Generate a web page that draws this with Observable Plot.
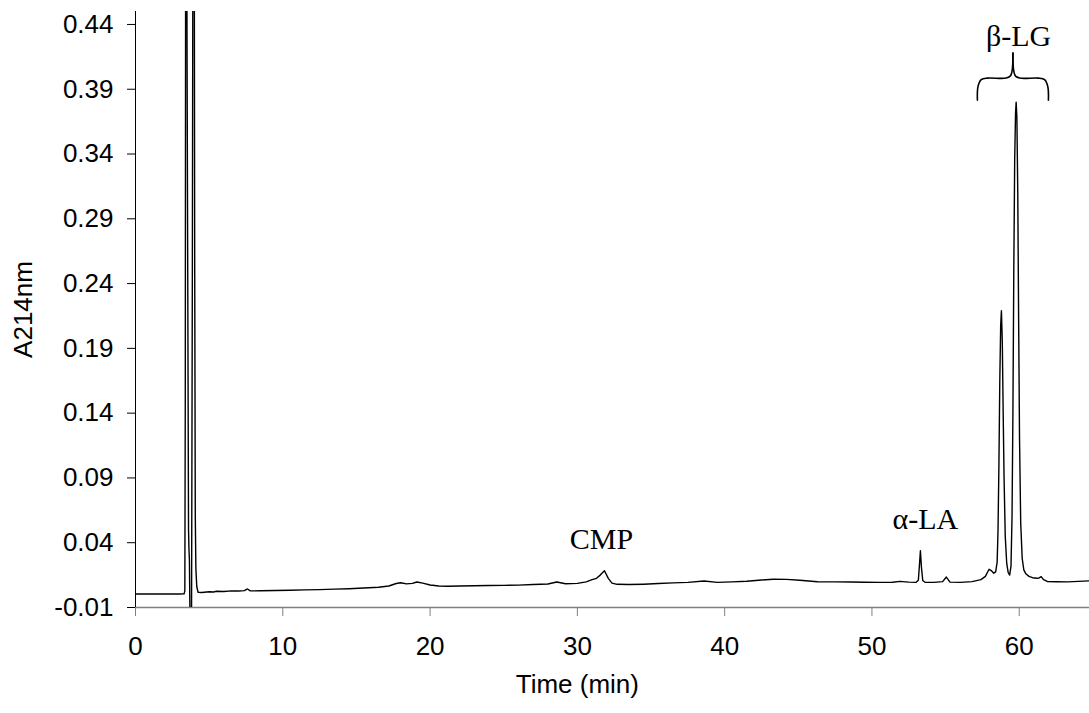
<!DOCTYPE html>
<html>
<head>
<meta charset="utf-8">
<script src="https://cdn.jsdelivr.net/npm/d3@7"></script>
<script src="https://cdn.jsdelivr.net/npm/@observablehq/plot@0.6"></script>
<style>
  html, body { margin: 0; padding: 0; background: #fff; }
  #chart svg { display: block; }
</style>
</head>
<body>
<div id="chart"></div>
<script>
// Retention time (min)
const time = [
  0, 1, 2, 3, 3.30, 3.35, 3.38, 3.41, 3.46, 3.50, 3.60, 3.63, 3.66, 3.72, 3.80, 3.86, 3.91, 3.98, 4.02, 4.06, 4.10, 4.16,
  4.25, 4.5, 5.0, 5.3, 5.5, 6.0, 6.5, 7.0, 7.4, 7.6, 7.8, 8.5, 9.5, 10.5, 11.5, 12.5, 13.5, 14.5, 15.5, 16.5,
  17.2, 17.7, 18.0, 18.4, 18.8, 19.1, 19.5, 20.0, 20.6, 21.2, 22, 23, 24, 25, 26, 27, 28, 28.6, 29.2, 30.0,
  30.6, 31.0, 31.3, 31.55, 31.84, 32.1, 32.35, 32.7, 33.5, 34.5, 35.5, 36.5, 37.5, 38.6, 39.5, 40.5, 41.5, 42.5,
  43.3, 44.2, 45.1, 46.3, 47.5, 48.6, 49.5, 50.5, 51.4, 51.9, 52.5, 53.0, 53.15, 53.22, 53.29, 53.36, 53.45, 53.6,
  54.2, 54.8, 55.05, 55.3, 56.0, 56.8, 57.4, 57.7, 57.95, 58.1, 58.27, 58.4, 58.5, 58.56, 58.62, 58.68, 58.74,
  58.79, 58.85, 58.91, 58.97, 59.05, 59.15, 59.25, 59.35, 59.44, 59.51, 59.57, 59.63, 59.69, 59.75, 59.79, 59.84,
  59.90, 59.96, 60.02, 60.10, 60.2, 60.31, 60.45, 60.66, 60.9, 61.2, 61.35, 61.49, 61.65, 61.9, 62.5, 63.3, 64.0, 64.8
];
// Absorbance at 214 nm
const absorbance = [
  0.0004, 0.0004, 0.0004, 0.0004, 0.0005, 0.003, 0.15, 0.6, 0.6, 0.42, 0.05, 0.035, 0.027, -0.04, -0.04, 0.25, 0.6, 0.6, 0.25, 0.06, 0.02, 0.006,
  0.0018, 0.0016, 0.0022, 0.0020, 0.0025, 0.0023, 0.0028, 0.0027, 0.0030, 0.0043, 0.0028, 0.0029, 0.0031, 0.0033, 0.0036, 0.0038, 0.0042, 0.0045, 0.0050, 0.0056,
  0.0066, 0.0085, 0.0091, 0.0082, 0.0086, 0.0097, 0.0088, 0.0074, 0.0066, 0.0064, 0.0066, 0.0068, 0.0070, 0.0071, 0.0073, 0.0077, 0.0081, 0.0097, 0.0083, 0.0086,
  0.0098, 0.0115, 0.0125, 0.0150, 0.0184, 0.0125, 0.0088, 0.0079, 0.0077, 0.0080, 0.0085, 0.0090, 0.0094, 0.0104, 0.0094, 0.0098, 0.0103, 0.0112,
  0.0118, 0.0117, 0.0110, 0.0099, 0.0098, 0.0097, 0.0095, 0.0094, 0.0095, 0.0102, 0.0096, 0.0094, 0.0110, 0.0220, 0.0338, 0.0210, 0.0108, 0.0095,
  0.0094, 0.0100, 0.0135, 0.0096, 0.0094, 0.0100, 0.0115, 0.0140, 0.0195, 0.0185, 0.0165, 0.0175, 0.025, 0.05, 0.10, 0.165, 0.208,
  0.219, 0.195, 0.14, 0.09, 0.045, 0.024, 0.017, 0.015, 0.022, 0.06, 0.14, 0.25, 0.335, 0.372, 0.380, 0.368,
  0.31, 0.21, 0.12, 0.055, 0.028, 0.019, 0.016, 0.0140, 0.0130, 0.0126, 0.0128, 0.0138, 0.0115, 0.0101, 0.0099, 0.0098, 0.0102, 0.0106
];

const xTicks = [0, 10, 20, 30, 40, 50, 60];
const yTicks = [-0.01, 0.04, 0.09, 0.14, 0.19, 0.24, 0.29, 0.34, 0.39, 0.44];

// Peak annotations
const peakLabels = ["CMP", "α-LA", "β-LG"];
const peakLabelTime = [31.64, 53.63, 59.95];
const peakLabelAbs = [0.0353, 0.0508, 0.4236];

// Curly brace over the β-LG peaks (two halves meeting at the tip)
const braceSide = ["L","L","L","L","L","L","L","R","R","R","R","R","R","R"];
const braceTime = [57.16, 57.20, 57.42, 57.85, 59.10, 59.42, 59.57, 59.57, 59.72, 60.04, 61.29, 61.72, 61.94, 61.98];
const braceAbs  = [0.3816, 0.3920, 0.3974, 0.3986, 0.3986, 0.4006, 0.4179, 0.4179, 0.4006, 0.3986, 0.3986, 0.3974, 0.3920, 0.3816];

const trace = time.map((t, i) => ({t, a: absorbance[i]}));
const labels = peakLabels.map((s, i) => ({s, t: peakLabelTime[i], a: peakLabelAbs[i]}));
const brace = braceTime.map((t, i) => ({t, a: braceAbs[i], side: braceSide[i]}));

const sans = "'Liberation Sans', Arial, Helvetica, sans-serif";
const serif = "'Liberation Serif', 'Times New Roman', Times, serif";

const chart = Plot.plot({
  width: 1089,
  height: 713,
  marginLeft: 135,
  marginRight: 0,
  marginTop: 11,
  marginBottom: 106,
  style: {fontFamily: sans, fontSize: "26px", background: "white", color: "black"},
  x: {domain: [0, 64.77]},
  y: {domain: [-0.01, 0.45]},
  marks: [
    Plot.ruleY([-0.01], {stroke: "#808080", strokeWidth: 1.4}),
    Plot.axisY({ticks: yTicks, tickFormat: d => d.toFixed(2), tickSize: 8, tickPadding: 14, label: null, stroke: "black", fill: "black", fontSize: 26}),
    Plot.axisX({ticks: xTicks, tickSize: 9, tickPadding: 20, label: null, stroke: "#808080", fill: "black", fontSize: 26}),
    Plot.ruleX([0], {stroke: "black", strokeWidth: 1}),
    Plot.line(trace, {x: "t", y: "a", stroke: "black", strokeWidth: 1.4, clip: true}),
    Plot.line(brace, {x: "t", y: "a", z: "side", curve: "catmull-rom", stroke: "black", strokeWidth: 1.6}),
    Plot.text(labels, {x: "t", y: "a", text: "s", lineAnchor: "bottom", textAnchor: "middle", fontFamily: serif, fontSize: 30, fill: "black"}),
    Plot.text([{t: 30, s: "Time (min)"}], {x: "t", text: "s", frameAnchor: "bottom", lineAnchor: "bottom", dy: 85, fontSize: 26, fill: "black"}),
    Plot.text([{s: "A214nm"}], {text: "s", frameAnchor: "left", rotate: -90, dx: -112, lineAnchor: "middle", textAnchor: "middle", fontSize: 26, fill: "black"})
  ]
});

document.getElementById("chart").appendChild(chart);
</script>
</body>
</html>
